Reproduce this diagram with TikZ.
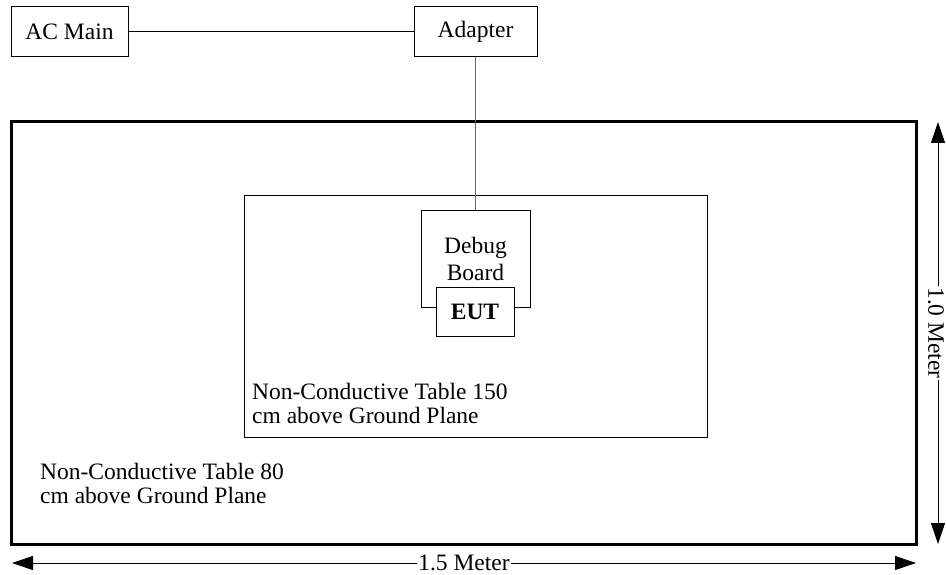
\documentclass[tikz,border=0pt]{standalone}
\usepackage{fontspec}
\setmainfont{Liberation Serif}
\usetikzlibrary{positioning,arrows.meta}

\begin{document}
\begin{tikzpicture}
      [
        x=1pt, y=-1pt,
        every node/.style={font=\fontsize{23.5}{24}\selectfont},
        box/.style={rectangle, draw=black, line width=1pt, inner sep=0pt, fill=white},
        tablebox/.style={rectangle, draw=black, inner sep=0pt},
        note/.style={anchor=west, align=left, inner sep=0pt},
        dimline/.style={line width=1pt, {Triangle[length=21pt,width=14pt]}-{Triangle[length=21pt,width=14pt]}},
        dimlabel/.style={fill=white, inner xsep=1pt, inner ysep=0pt}
      ]
      \useasboundingbox (0,0) rectangle (946,575);
      \node[tablebox, line width=3pt, minimum width=905pt, minimum height=422pt] (table80) at (463.5,333) {};
      \node[tablebox, line width=1pt, minimum width=463pt, minimum height=241pt] (table150) at (475.5,316.5) {};
      \node[box, minimum width=117pt, minimum height=50pt] (acmain) at (69.5,32) {AC Main};
      \node[box, minimum width=123pt, minimum height=50pt] (adapter) at (475.5,32) {Adapter};
      \node[box, minimum width=109pt, minimum height=96pt, align=center,
            font=\fontsize{23.5}{27}\selectfont] (debug) at (475.5,259) {Debug\\Board};
      \node[box, minimum width=78pt, minimum height=49pt, font=\fontsize{23.5}{24}\selectfont\bfseries] (eut) at (475,311.5) {EUT};
      \node[note] (txt150) at (252,403.5) {Non-Conductive Table 150\\cm above Ground Plane};
      \node[note] (txt80) at (40,483) {Non-Conductive Table 80\\cm above Ground Plane};
      \coordinate (vtop) at (938,122);
      \coordinate (vbot) at (938,544);
      \coordinate (hleft) at (12,563);
      \coordinate (hright) at (916,563);
      \draw[line width=1pt] (acmain.east) -- (adapter.west);
      \draw[line width=1pt, black!60] (adapter.south) -- (debug.north);
      \draw[dimline] (vtop) -- (vbot);
      \node[dimlabel, rotate=-90] (lenv) at (936,333) {1.0 Meter};
      \draw[dimline] (hleft) -- node[dimlabel] (lenh) {1.5 Meter} (hright);
    \end{tikzpicture}
\end{document}
